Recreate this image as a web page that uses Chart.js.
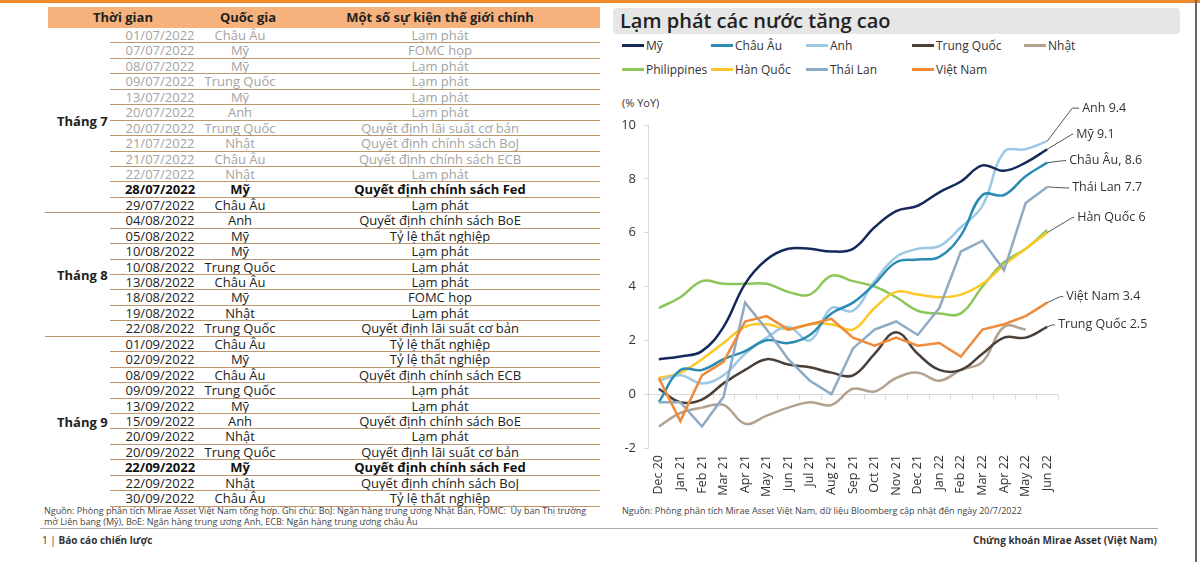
<!DOCTYPE html>
<html lang="vi">
<head>
<meta charset="utf-8">
<title>Lạm phát các nước tăng cao</title>
<script src="https://cdn.jsdelivr.net/npm/chart.js@4.4.1/dist/chart.umd.min.js"></script>
<style>
  body { margin: 0; width: 1200px; height: 562px; overflow: hidden; background: #fff;
         font-family: 'Open Sans', sans-serif; color: #222; position: relative; }
  .topbar { position: absolute; left: 0; top: 0; width: 1200px; height: 3px; background: #ee8a2c; }
  .rightbar { position: absolute; left: 1195px; top: 0; width: 2px; height: 562px; background: #666; }

  #table { position: absolute; left: 48px; top: 7px; width: 552px; }
  .head { height: 21px; line-height: 21px; background: #f6b27c; position: relative; font-weight: 700; font-size: 13px; }
  .head span, .row span { position: absolute; top: 0; transform: translateX(-50%); white-space: nowrap; }
  .row { position: relative; height: 15.45px; line-height: 15.45px; font-size: 13px; }
  .row::after { content: ''; position: absolute; left: 62px; right: 0; bottom: 0; height: 1px; background: #bf976f; }
  .row.first::before { content: ''; position: absolute; left: -3px; right: 0; top: -1px; height: 1px; background: #bf976f; }
  .row.faded { color: #a3a3a3; }
  .row.bold { font-weight: 700; color: #111; }
  .month { position: absolute; left: 9px; font-weight: 700; font-size: 13px; line-height: 16px; }

  .note { position: absolute; font-size: 9px; line-height: 11px; color: #444; white-space: nowrap; }
  .footline { position: absolute; left: 40px; top: 528px; width: 1118px; height: 1px; background: #aaa; }
  .foot { position: absolute; top: 533px; font-size: 10px; color: #333; white-space: nowrap; }

  .title { position: absolute; left: 613px; top: 8px; width: 567px; height: 26px; background: #e6e6e6;
           border-radius: 4px; font-size: 20px; font-weight: 600; line-height: 26px; padding-left: 7px;
           box-sizing: border-box; color: #222; }
  #legend { position: absolute; left: 622px; top: 36px; width: 560px; height: 48px; font-size: 12px; color: #333; }
  .lg { position: absolute; display: flex; align-items: center; height: 18px; white-space: nowrap; }
  .lg i { display: inline-block; width: 22px; height: 3px; margin-right: 2px; }
  .unit { position: absolute; left: 622px; top: 95px; font-size: 11px; color: #333; }
  #wrap { position: absolute; left: 600px; top: 90px; width: 590px; height: 420px; }
</style>
</head>
<body>
<div class="topbar"></div>
<div class="rightbar"></div>

<div id="table">
  <div class="head"><span style="left:75px">Thời gian</span><span style="left:200px">Quốc gia</span><span style="left:392px">Một số sự kiện thế giới chính</span></div>
  <div id="rows"></div>
</div>
<div class="note" style="left:44px; top:505px">Nguồn: Phòng phân tích Mirae Asset Việt Nam tổng hợp. Ghi chú: BoJ: Ngân hàng trung ương Nhật Bản, FOMC:&nbsp; Ủy ban Thị trường<br>mở Liên bang (Mỹ), BoE: Ngân hàng trung ương Anh, ECB: Ngân hàng trung ương châu Âu</div>
<div class="note" style="left:622px; top:505px">Nguồn: Phòng phân tích Mirae Asset Việt Nam, dữ liệu Bloomberg cập nhật đến ngày 20/7/2022</div>
<div class="footline"></div>
<div class="foot" style="left:42px">1 | <b>Báo cáo chiến lược</b></div>
<div class="foot" style="right:43px"><b>Chứng khoán Mirae Asset (Việt Nam)</b></div>

<div class="title">Lạm phát các nước tăng cao</div>
<div id="legend"></div>
<div class="unit">(% YoY)</div>
<div id="wrap"><canvas id="inflationChart"></canvas></div>

<script>
// Month labels on the x axis
var months = ['Dec 20', 'Jan 21', 'Feb 21', 'Mar 21', 'Apr 21', 'May 21', 'Jun 21', 'Jul 21', 'Aug 21', 'Sep 21',
              'Oct 21', 'Nov 21', 'Dec 21', 'Jan 22', 'Feb 22', 'Mar 22', 'Apr 22', 'May 22', 'Jun 22'];
var yTicks = [-2, 0, 2, 4, 6, 8, 10];

// Inflation, % YoY
var usa         = [1.3, 1.4, 1.6, 2.5, 4.1, 5.0, 5.4, 5.4, 5.3, 5.4, 6.2, 6.8, 7.0, 7.5, 7.9, 8.5, 8.3, 8.6, 9.1];
var europe      = [-0.3, 0.9, 0.9, 1.3, 1.6, 2.0, 1.9, 2.2, 3.0, 3.4, 4.1, 4.9, 5.0, 5.1, 5.9, 7.4, 7.4, 8.1, 8.6];
var uk          = [0.5, 0.7, 0.4, 0.7, 1.5, 2.1, 2.5, 2.0, 3.2, 3.1, 4.2, 5.1, 5.4, 5.5, 6.2, 7.0, 9.0, 9.1, 9.4];
var china       = [0.2, -0.3, -0.2, 0.4, 0.9, 1.3, 1.1, 1.0, 0.8, 0.7, 1.5, 2.3, 1.5, 0.9, 0.9, 1.5, 2.1, 2.1, 2.5];
var japan       = [-1.2, -0.7, -0.5, -0.4, -1.1, -0.8, -0.5, -0.3, -0.4, 0.2, 0.1, 0.6, 0.8, 0.5, 0.9, 1.2, 2.5, 2.4, null];
var philippines = [3.2, 3.6, 4.2, 4.1, 4.1, 4.1, 3.8, 3.7, 4.4, 4.2, 4.0, 3.6, 3.1, 3.0, 3.0, 4.0, 4.9, 5.4, 6.1];
var korea       = [0.6, 0.8, 1.3, 1.9, 2.5, 2.6, 2.4, 2.6, 2.6, 2.4, 3.2, 3.8, 3.7, 3.6, 3.7, 4.1, 4.8, 5.4, 6.0];
var thailand    = [-0.3, -0.3, -1.2, -0.1, 3.4, 2.4, 1.3, 0.5, 0.0, 1.7, 2.4, 2.7, 2.2, 3.2, 5.3, 5.7, 4.6, 7.1, 7.7];
var vietnam     = [0.6, -1.0, 0.7, 1.2, 2.7, 2.9, 2.4, 2.6, 2.8, 2.1, 1.8, 2.1, 1.8, 1.9, 1.4, 2.4, 2.6, 2.9, 3.4];

var seriesNames = ['Mỹ', 'Châu Âu', 'Anh', 'Trung Quốc', 'Nhật', 'Philippines', 'Hàn Quốc', 'Thái Lan', 'Việt Nam'];
var seriesData = [usa, europe, uk, china, japan, philippines, korea, thailand, vietnam];
var seriesColors = ['#15295a', '#2b8bb3', '#9cc8e6', '#4a4039', '#b3a28f', '#8cc65a', '#fcc826', '#8eabc6', '#ee8a3a'];
var smooth = [0.4, 0.4, 0.4, 0.4, 0.4, 0.4, 0.4, 0, 0];
var drawOrder = [1, 4, 5, 6, 7, 9, 8, 3, 2]; // lower = on top

// Table of events
var events = [
  ['Tháng 7', [
    ['01/07/2022', 'Châu Âu', 'Lạm phát', 'faded'],
    ['07/07/2022', 'Mỹ', 'FOMC họp', 'faded'],
    ['08/07/2022', 'Mỹ', 'Lạm phát', 'faded'],
    ['09/07/2022', 'Trung Quốc', 'Lạm phát', 'faded'],
    ['13/07/2022', 'Mỹ', 'Lạm phát', 'faded'],
    ['20/07/2022', 'Anh', 'Lạm phát', 'faded'],
    ['20/07/2022', 'Trung Quốc', 'Quyết định lãi suất cơ bản', 'faded'],
    ['21/07/2022', 'Nhật', 'Quyết định chính sách BoJ', 'faded'],
    ['21/07/2022', 'Châu Âu', 'Quyết định chính sách ECB', 'faded'],
    ['22/07/2022', 'Nhật', 'Lạm phát', 'faded'],
    ['28/07/2022', 'Mỹ', 'Quyết định chính sách Fed', 'bold'],
    ['29/07/2022', 'Châu Âu', 'Lạm phát', '']
  ]],
  ['Tháng 8', [
    ['04/08/2022', 'Anh', 'Quyết định chính sách BoE', ''],
    ['05/08/2022', 'Mỹ', 'Tỷ lệ thất nghiệp', ''],
    ['10/08/2022', 'Mỹ', 'Lạm phát', ''],
    ['10/08/2022', 'Trung Quốc', 'Lạm phát', ''],
    ['13/08/2022', 'Châu Âu', 'Lạm phát', ''],
    ['18/08/2022', 'Mỹ', 'FOMC họp', ''],
    ['19/08/2022', 'Nhật', 'Lạm phát', ''],
    ['22/08/2022', 'Trung Quốc', 'Quyết định lãi suất cơ bản', '']
  ]],
  ['Tháng 9', [
    ['01/09/2022', 'Châu Âu', 'Tỷ lệ thất nghiệp', ''],
    ['02/09/2022', 'Mỹ', 'Tỷ lệ thất nghiệp', ''],
    ['08/09/2022', 'Châu Âu', 'Quyết định chính sách ECB', ''],
    ['09/09/2022', 'Trung Quốc', 'Lạm phát', ''],
    ['13/09/2022', 'Mỹ', 'Lạm phát', ''],
    ['15/09/2022', 'Anh', 'Quyết định chính sách BoE', ''],
    ['20/09/2022', 'Nhật', 'Lạm phát', ''],
    ['20/09/2022', 'Trung Quốc', 'Quyết định lãi suất cơ bản', ''],
    ['22/09/2022', 'Mỹ', 'Quyết định chính sách Fed', 'bold'],
    ['22/09/2022', 'Nhật', 'Quyết định chính sách BoJ', ''],
    ['30/09/2022', 'Châu Âu', 'Tỷ lệ thất nghiệp', '']
  ]]
];

// Build the table
var rowsEl = document.getElementById('rows');
var rowH = 15.45, rowCount = 0;
events.forEach(function (group, gi) {
  var month = document.createElement('div');
  month.className = 'month';
  month.textContent = group[0];
  month.style.top = (21 + (rowCount + group[1].length / 2) * rowH - 8) + 'px';
  document.getElementById('table').appendChild(month);
  group[1].forEach(function (r, ri) {
    var row = document.createElement('div');
    row.className = 'row ' + r[3] + (gi > 0 && ri === 0 ? ' first' : '');
    row.innerHTML = '<span style="left:112px">' + r[0] + '</span><span style="left:192px">' + r[1] +
                    '</span><span style="left:392px">' + r[2] + '</span>';
    rowsEl.appendChild(row);
    rowCount++;
  });
});

// Legend, laid out in a grid like the original
var legendCols = [0, 89, 184, 290, 402];
var legendEl = document.getElementById('legend');
seriesNames.forEach(function (name, i) {
  var item = document.createElement('div');
  item.className = 'lg';
  item.style.left = legendCols[i % 5] + 'px';
  item.style.top = (i < 5 ? 0 : 24) + 'px';
  item.innerHTML = '<i style="background:' + seriesColors[i] + '"></i>' + name;
  legendEl.appendChild(item);
});

// Callout labels at the end of some lines
var callouts = [
  { ds: 2, text: 'Anh 9.4',        ex: 25, dy: -33, tx: 35 },
  { ds: 0, text: 'Mỹ 9.1',         ex: 25, dy: -15, tx: 29 },
  { ds: 1, text: 'Châu Âu, 8.6',   ex: 16, dy: -2,  tx: 22 },
  { ds: 7, text: 'Thái Lan 7.7',   ex: 18, dy: 1,   tx: 25 },
  { ds: 6, text: 'Hàn Quốc 6',     ex: 25, dy: -15, tx: 30 },
  { ds: 8, text: 'Việt Nam 3.4',   ex: 13, dy: -6,  tx: 19 },
  { ds: 3, text: 'Trung Quốc 2.5', ex: 5,  dy: -2,  tx: 11 }
];

var calloutPlugin = {
  id: 'callouts',
  afterDatasetsDraw: function (chart) {
    var ctx = chart.ctx;
    ctx.save();
    ctx.font = '12.5px "Open Sans"';
    ctx.fillStyle = '#333';
    ctx.strokeStyle = '#555';
    ctx.lineWidth = 1;
    ctx.textBaseline = 'middle';
    callouts.forEach(function (c) {
      var pts = chart.getDatasetMeta(c.ds).data;
      var p = pts[pts.length - 1];
      ctx.beginPath();
      ctx.moveTo(p.x, p.y);
      ctx.lineTo(p.x + c.ex, p.y + c.dy);
      ctx.lineTo(p.x + c.tx - 3, p.y + c.dy);
      ctx.stroke();
      ctx.fillText(c.text, p.x + c.tx, p.y + c.dy);
    });
    ctx.restore();
  }
};

// Category axis drawn at the zero line, with tick marks between months
var zeroAxisPlugin = {
  id: 'zeroAxis',
  beforeDatasetsDraw: function (chart) {
    var ctx = chart.ctx, area = chart.chartArea;
    var y0 = Math.round(chart.scales.y.getPixelForValue(0)) + 0.5;
    var step = (area.right - area.left) / months.length;
    ctx.save();
    ctx.strokeStyle = '#d9d9d9';
    ctx.lineWidth = 1;
    ctx.beginPath();
    ctx.moveTo(area.left, y0);
    ctx.lineTo(area.right, y0);
    for (var i = 1; i <= months.length; i++) {
      var x = Math.round(area.left + i * step) + 0.5;
      ctx.moveTo(x, y0);
      ctx.lineTo(x, y0 + 5);
    }
    ctx.stroke();
    ctx.restore();
  }
};

Chart.defaults.font.family = "'Open Sans', sans-serif";
Chart.defaults.color = '#333';

var ctx = document.getElementById('inflationChart').getContext('2d');
var inflationChart = new Chart(ctx, {
  type: 'line',
  data: {
    labels: months,
    datasets: seriesNames.map(function (name, i) {
      return {
        label: name,
        data: seriesData[i],
        borderColor: seriesColors[i],
        backgroundColor: seriesColors[i],
        borderWidth: 2.5,
        tension: smooth[i],
        order: drawOrder[i],
        pointRadius: 0,
        fill: false
      };
    })
  },
  options: {
    responsive: true,
    maintainAspectRatio: false,
    animation: false,
    layout: { padding: { top: 35, right: 132, left: 0, bottom: 0 } },
    plugins: { legend: { display: false }, tooltip: { enabled: false } },
    scales: {
      x: {
        offset: true,
        grid: { display: false, drawTicks: false },
        border: { display: false },
        ticks: { autoSkip: false, minRotation: 90, maxRotation: 90, padding: 7, font: { size: 12.5 }, color: '#333' },
        afterFit: function (s) { s.height = 62; }
      },
      y: {
        min: yTicks[0],
        max: yTicks[yTicks.length - 1],
        afterBuildTicks: function (s) { s.ticks = yTicks.map(function (v) { return { value: v }; }); },
        grid: { drawOnChartArea: false, tickLength: 4, color: '#d9d9d9' },
        border: { color: '#d9d9d9' },
        ticks: { padding: 8, font: { size: 13 }, color: '#333' },
        afterFit: function (s) { s.width = 48; }
      }
    }
  },
  plugins: [zeroAxisPlugin, calloutPlugin]
});
</script>
</body>
</html>
